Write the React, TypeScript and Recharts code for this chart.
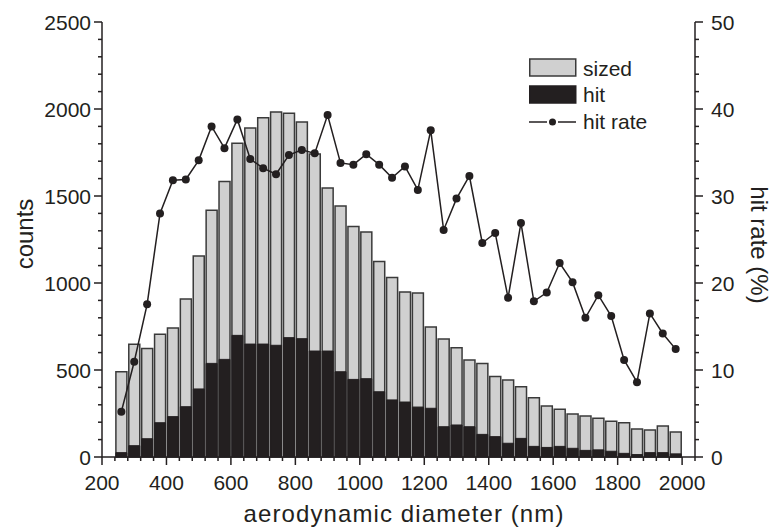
import { ComposedChart, Bar, Line, XAxis, YAxis, Legend } from 'recharts'

// bin centres (nm), 40 nm bins
const diameter = [
  260, 300, 340, 380, 420, 460, 500, 540, 580, 620, 660, 700, 740, 780, 820, 860, 900, 940, 980, 1020, 1060,
  1100, 1140, 1180, 1220, 1260, 1300, 1340, 1380, 1420, 1460, 1500, 1540, 1580, 1620, 1660, 1700, 1740, 1780,
  1820, 1860, 1900, 1940, 1980,
]
const sized = [
  490, 648, 623, 705, 741, 908, 1155, 1418, 1584, 1803, 1891, 1950, 1983, 1975, 1925, 1741, 1546, 1443, 1324,
  1293, 1123, 1031, 948, 943, 747, 678, 628, 557, 538, 462, 443, 404, 341, 293, 274, 247, 236, 222, 205, 197,
  161, 155, 178, 144,
]
const hit = [
  25, 65, 105, 197, 232, 289, 391, 538, 561, 699, 649, 649, 642, 686, 680, 609, 609, 490, 446, 450, 375, 328,
  316, 287, 280, 174, 184, 174, 130, 117, 79, 107, 61, 55, 61, 50, 38, 41, 33, 21, 14, 25, 25, 18,
]
const hitRate = [
  5.2, 10.95, 17.55, 28.0, 31.8, 31.9, 34.1, 38.0, 35.5, 38.8, 34.25, 33.2, 32.5, 34.7, 35.3, 34.9, 39.3, 33.8,
  33.6, 34.8, 33.6, 32.1, 33.4, 30.7, 37.55, 26.1, 29.7, 32.3, 24.6, 25.75, 18.3, 26.9, 17.9, 18.9, 22.3, 20.1,
  16.0, 18.6, 16.2, 11.15, 8.6, 16.5, 14.2, 12.4,
]

const xMajor = [200, 400, 600, 800, 1000, 1200, 1400, 1600, 1800, 2000]
const leftMajor = [0, 500, 1000, 1500, 2000, 2500]
const rightMajor = [0, 10, 20, 30, 40, 50]

// minor tick steps
const xTicks = Array.from({ length: 47 }, (_, i) => 200 + i * 40)
const leftTicks = Array.from({ length: 26 }, (_, i) => i * 100)
const rightTicks = Array.from({ length: 26 }, (_, i) => i * 2)

const INK = '#231f20'
const GRAY = '#d0d0d0'
const FONT = '"Liberation Sans", Arial, sans-serif'

const data = diameter.map((d, i) => ({ d, sized: sized[i], hit: hit[i], rate: hitRate[i] }))

function XTick(props: any) {
  const { x, y, payload } = props
  const major = xMajor.includes(payload.value)
  return (
    <g>
      <line x1={x} x2={x} y1={y} y2={y + (major ? 8 : 4)} stroke={INK} strokeWidth={1.5} />
      {major && (
        <text x={x} y={y + 33} textAnchor="middle" fontSize={21} fill={INK} fontFamily={FONT}>
          {payload.value}
        </text>
      )}
    </g>
  )
}

function LeftTick(props: any) {
  const { x, y, payload } = props
  const major = leftMajor.includes(payload.value)
  return (
    <g>
      <line x1={x - (major ? 8 : 4)} x2={x} y1={y} y2={y} stroke={INK} strokeWidth={1.5} />
      {major && (
        <text x={x - 11} y={y + 7.5} textAnchor="end" fontSize={21} fill={INK} fontFamily={FONT}>
          {payload.value}
        </text>
      )}
    </g>
  )
}

function RightTick(props: any) {
  const { x, y, payload } = props
  const major = rightMajor.includes(payload.value)
  return (
    <g>
      <line x1={x} x2={x + (major ? 8 : 4)} y1={y} y2={y} stroke={INK} strokeWidth={1.5} />
      {major && (
        <text x={x + 16} y={y + 7.5} textAnchor="start" fontSize={21} fill={INK} fontFamily={FONT}>
          {payload.value}
        </text>
      )}
    </g>
  )
}

function ChartLegend() {
  return (
    <svg width={160} height={80} style={{ display: 'block' }}>
      <rect x={0.75} y={2} width={46} height={17} fill={GRAY} stroke="#3a3a3a" strokeWidth={1.5} />
      <text x={54} y={19} fontSize={21} fill={INK} fontFamily={FONT}>sized</text>
      <rect x={0.75} y={29} width={46} height={17} fill={INK} stroke={INK} strokeWidth={1.5} />
      <text x={54} y={45} fontSize={21} fill={INK} fontFamily={FONT}>hit</text>
      <line x1={0} x2={18} y1={65} y2={65} stroke={INK} strokeWidth={1.5} />
      <circle cx={23.5} cy={65} r={3.5} fill={INK} />
      <line x1={29} x2={47} y1={65} y2={65} stroke={INK} strokeWidth={1.5} />
      <text x={54} y={72} fontSize={21} fill={INK} fontFamily={FONT}>hit rate</text>
    </svg>
  )
}

export default function App() {
  return (
    <div style={{ position: 'absolute', left: 0, top: 0, width: 772, height: 528, background: '#fff' }}>
      <style>{'body{margin:0}'}</style>
      <ComposedChart width={772} height={528} data={data} margin={{ top: 22, right: 0, bottom: 0, left: 0 }}>
        <XAxis
          xAxisId="b"
          dataKey="d"
          type="number"
          domain={[200, 2040]}
          ticks={xTicks}
          interval={0}
          height={71}
          tickSize={0}
          tickMargin={0}
          tickLine={false}
          axisLine={{ stroke: INK, strokeWidth: 1.5 }}
          tick={(p: any) => <XTick {...p} />}
        />
        <XAxis
          xAxisId="t"
          orientation="top"
          dataKey="d"
          type="number"
          domain={[200, 2040]}
          height={0}
          tick={false}
          tickLine={false}
          axisLine={{ stroke: INK, strokeWidth: 1.5 }}
        />
        <YAxis
          yAxisId="l"
          domain={[0, 2500]}
          ticks={leftTicks}
          interval={0}
          width={102}
          tickSize={0}
          tickMargin={0}
          tickLine={false}
          axisLine={{ stroke: INK, strokeWidth: 1.5 }}
          tick={(p: any) => <LeftTick {...p} />}
        />
        <YAxis
          yAxisId="r"
          orientation="right"
          domain={[0, 50]}
          ticks={rightTicks}
          interval={0}
          width={77}
          tickSize={0}
          tickMargin={0}
          tickLine={false}
          axisLine={{ stroke: INK, strokeWidth: 1.5 }}
          tick={(p: any) => <RightTick {...p} />}
        />
        <Legend
          layout="vertical"
          align="center"
          verticalAlign="middle"
          content={() => <ChartLegend />}
          wrapperStyle={{ position: 'absolute', left: 529, top: 57, width: 160, height: 80 }}
        />
        <Bar
          xAxisId="b"
          yAxisId="l"
          dataKey="sized"
          barSize={11}
          fill={GRAY}
          stroke="#3a3a3a"
          strokeWidth={1.5}
          isAnimationActive={false}
        />
        <Bar
          xAxisId="t"
          yAxisId="l"
          dataKey="hit"
          barSize={11}
          fill={INK}
          stroke={INK}
          strokeWidth={1}
          isAnimationActive={false}
        />
        <Line
          xAxisId="b"
          yAxisId="r"
          dataKey="rate"
          type="linear"
          stroke={INK}
          strokeWidth={1.5}
          dot={{ r: 4, fill: INK, stroke: INK, strokeWidth: 0 }}
          isAnimationActive={false}
        />
      </ComposedChart>
      <svg width={772} height={528} style={{ position: 'absolute', left: 0, top: 0, pointerEvents: 'none' }}>
        <text x={404} y={522} textAnchor="middle" fontSize={24} letterSpacing={1.1} fill={INK} fontFamily={FONT}>
          aerodynamic diameter (nm)
        </text>
        <text transform="translate(33,234) rotate(-90)" textAnchor="middle" fontSize={24} fill={INK} fontFamily={FONT}>
          counts
        </text>
        <text transform="translate(751,245) rotate(90)" textAnchor="middle" fontSize={24} fill={INK} fontFamily={FONT}>
          hit rate (%)
        </text>
      </svg>
    </div>
  )
}
